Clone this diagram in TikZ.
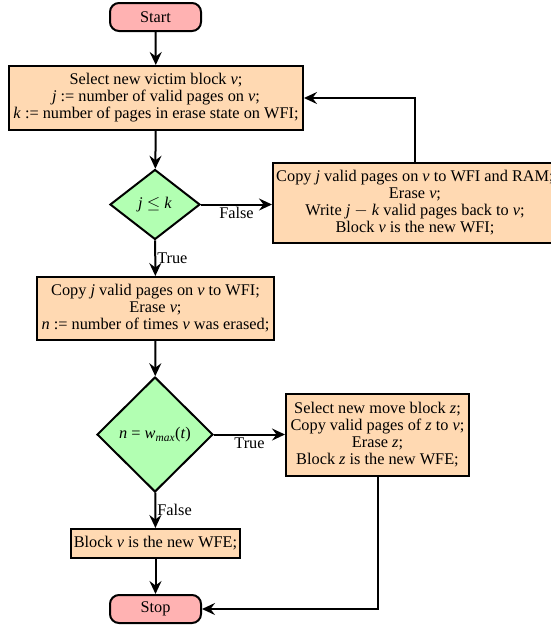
\documentclass[tikz,border=0pt]{standalone}
\usepackage{fontspec}
\setmainfont{Liberation Serif}
\usetikzlibrary{shapes.geometric,arrows.meta}
\newcommand{\vv}[1]{\textit{#1}}
\begin{document}
\begin{tikzpicture}[x=1pt,y=-1pt,
  font=\fontsize{16.3}{17}\selectfont,
  term/.style={draw, line width=2pt, rounded corners=9pt, fill=red!30,
    minimum width=91pt, minimum height=28pt, inner sep=0pt},
  proc/.style={draw, line width=2pt, fill=orange!30, align=center, inner sep=0pt},
  dec/.style={draw, diamond, line width=2pt, fill=green!30, inner sep=0pt, align=center},
  conn/.style={line width=2pt, -{Stealth[length=13pt,width=12pt,inset=4.5pt]}},
  lbl/.style={inner sep=2pt}]
\useasboundingbox (0,0) rectangle (551,627);

\node[term] (start) at (155.5,17) {Start};
\node[proc, minimum width=294pt, minimum height=64pt] (b1) at (156,98)
  {Select new victim block \vv{v};\\ \vv{j} := number of valid pages on \vv{v};\\ \vv{k} := number of pages in erase state on WFI;};
\node[dec, minimum width=90pt, minimum height=70pt] (d1) at (155,204.5) {\vv{j} $\leq$ \vv{k}};
\node[proc, minimum width=284pt, minimum height=80pt] (b2) at (415,203)
  {Copy \vv{j} valid pages on \vv{v} to WFI and RAM;\\ Erase \vv{v};\\ Write \vv{j} $-$ \vv{k} valid pages back to \vv{v};\\ Block \vv{v} is the new WFI;};
\node[proc, minimum width=237pt, minimum height=63pt] (b3) at (155.5,308.5)
  {Copy \vv{j} valid pages on \vv{v} to WFI;\\ Erase \vv{v};\\ \vv{n} := number of times \vv{v} was erased;};
\node[dec, minimum width=116pt, minimum height=115pt] (d2) at (155,434.5) {\vv{n} = \vv{w}\textsubscript{\vv{max}}(\vv{t})};
\node[proc, minimum width=183pt, minimum height=82pt] (b4) at (377.5,435)
  {Select new move block \vv{z};\\ Copy valid pages of \vv{z} to \vv{v};\\ Erase \vv{z};\\ Block \vv{z} is the new WFE;};
\node[proc, minimum width=169pt, minimum height=29pt] (b5) at (155.5,543.5) {Block \vv{v} is the new WFE;};
\node[term] (stop) at (155.5,609) {Stop};

\draw[conn] (start) -- (b1);
\draw[conn] (b1) -- (d1);
\draw[conn] (d1.east) -- node[lbl, below] {False} (d1.east -| b2.west);
\draw[conn] (b2.north) |- (b1.east);
\draw[conn] (d1) -- node[lbl, right, inner sep=1pt] {True} (b3);
\draw[conn] (b3) -- (d2);
\draw[conn] (d2.east) -- node[lbl, below] {True} (d2.east -| b4.west);
\draw[conn] (d2) -- node[lbl, right, inner sep=1pt] {False} (b5);
\draw[conn] (b4.south) |- (stop.east);
\draw[conn] (b5) -- (stop);
\end{tikzpicture}
\end{document}
